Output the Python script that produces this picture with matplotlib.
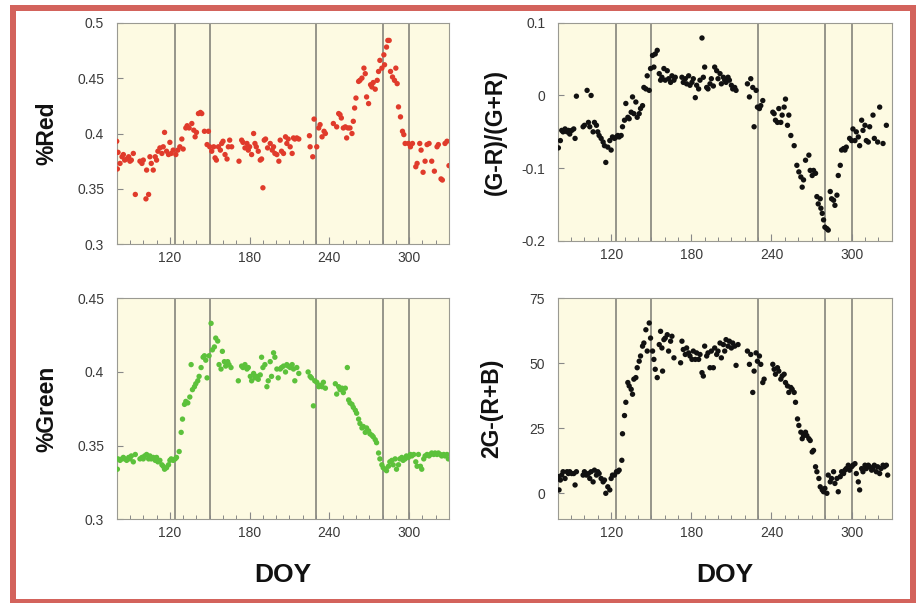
import matplotlib
matplotlib.use("Agg")
import matplotlib.pyplot as plt
from matplotlib.patches import Rectangle
from matplotlib.ticker import MultipleLocator, FixedLocator

plt.rcParams['font.family'] = ['Liberation Sans', 'DejaVu Sans']

# ---------------- data ----------------
red_doy = [80, 80.5, 81, 82.5, 84, 85, 86, 87.5, 89, 90, 91, 92.5, 94, 97.5, 99, 100, 102, 102.5, 104, 105,
           106, 107.5, 109, 110, 111, 112.5, 114, 115, 116, 117.5, 119, 120, 121, 122.5, 124.5, 126, 127.5, 129, 130, 132,
           133, 134.5, 136.5, 138, 139, 140, 141.5, 143, 144, 146, 148, 149, 150, 151.5, 153, 154, 155, 156.5, 158, 159,
           160, 161.5, 163, 164, 165, 166.5, 172, 174, 175, 176.5, 178, 179, 180, 181.5, 183, 184, 185, 186.5, 188, 189,
           190, 191, 192, 193.5, 195.5, 197, 198, 199, 200.5, 202, 203, 204, 205.5, 207, 208, 209, 210.5, 212, 213, 214,
           215.5, 217, 225, 225.5, 227.5, 228.5, 230.5, 232, 233, 234.5, 236, 237, 243, 245.5, 247, 248, 249, 250.5,
           252, 253, 254, 255.5, 257, 258, 259, 260, 262, 263, 264.5, 266, 267, 268, 269.5, 271, 272, 273, 274.5, 276,
           277, 278, 279.5, 281, 281.5, 283, 284, 285, 286, 287.5, 289, 290, 291, 292, 293.5, 295, 296, 297, 299.5, 301,
           302.5, 305, 306, 308, 309, 310.5, 312, 313.5, 315, 317, 319, 321, 322, 324, 325, 327, 328.5, 330]
red_val = [0.393, 0.368, 0.383, 0.373, 0.379, 0.381, 0.376, 0.377, 0.379, 0.375, 0.376, 0.382, 0.345, 0.375, 0.373,
           0.376, 0.341, 0.367, 0.345, 0.379, 0.373, 0.367, 0.379, 0.376, 0.384, 0.387, 0.382, 0.388, 0.401, 0.384,
           0.381, 0.392, 0.382, 0.385, 0.381, 0.385, 0.388, 0.395, 0.386, 0.405, 0.407, 0.405, 0.409, 0.403, 0.397,
           0.401, 0.418, 0.419, 0.418, 0.402, 0.390, 0.402, 0.388, 0.384, 0.388, 0.378, 0.376, 0.388, 0.385, 0.391,
           0.393, 0.381, 0.377, 0.388, 0.394, 0.388, 0.375, 0.394, 0.392, 0.387, 0.391, 0.385, 0.388, 0.381, 0.400,
           0.391, 0.388, 0.384, 0.376, 0.377, 0.351, 0.394, 0.395, 0.387, 0.391, 0.385, 0.388, 0.382, 0.381, 0.375,
           0.394, 0.384, 0.382, 0.397, 0.391, 0.395, 0.388, 0.382, 0.396, 0.395, 0.396, 0.395, 0.398, 0.388, 0.379,
           0.413, 0.388, 0.405, 0.408, 0.397, 0.402, 0.400, 0.409, 0.406, 0.418, 0.417, 0.414, 0.405, 0.406, 0.396,
           0.405, 0.405, 0.400, 0.411, 0.423, 0.432, 0.447, 0.448, 0.450, 0.459, 0.454, 0.433, 0.427, 0.444, 0.442,
           0.446, 0.440, 0.448, 0.456, 0.466, 0.459, 0.471, 0.462, 0.478, 0.484, 0.484, 0.456, 0.451, 0.448, 0.459,
           0.445, 0.424, 0.415, 0.402, 0.399, 0.391, 0.391, 0.388, 0.391, 0.370, 0.373, 0.391, 0.385, 0.365, 0.375,
           0.390, 0.391, 0.375, 0.366, 0.388, 0.390, 0.359, 0.358, 0.391, 0.393, 0.371]

gr_doy = [80.5, 82, 83, 84, 85.5, 87, 88, 89, 90.5, 92, 93, 94, 99, 100, 102, 103, 104, 105, 106.5, 107.5, 109, 110,
          111, 112.5, 114, 115, 116, 117.5, 119, 120, 121, 122.5, 124, 125, 126, 127.5, 128.5, 130, 131, 132.5, 133.5,
          135, 136, 137, 138.5, 139.5, 141, 142, 143.5, 144.5, 146, 147, 148.5, 149.5, 151, 152, 153, 154.5, 156, 157,
          158, 159.5, 160.5, 162, 163, 164.5, 165.5, 167, 168, 173, 174, 175.5, 176.5, 178, 179, 180.5, 181.5, 183, 184,
          185.5, 186.5, 188, 189, 190, 191.5, 192.5, 194, 195, 196.5, 197.5, 199, 200, 201.5, 202.5, 204, 205, 206,
          207.5, 208.5, 210, 211, 212.5, 213.5, 222, 223.5, 224.5, 226, 227, 228.5, 229.5, 231, 232, 233.5, 241, 242,
          243, 244.5, 245.5, 247, 248, 249.5, 250.5, 252, 253, 254.5, 257, 259, 260.5, 262, 263, 264, 265.5, 268, 269,
          270.5, 271.5, 273, 274, 275, 276.5, 277, 278, 279, 280, 281.5, 282.5, 284, 285, 286.5, 287.5, 289, 290,
          291.5, 292.5, 294, 295, 296, 298.5, 300, 301, 302.5, 303.5, 305, 306, 307.5, 308.5, 310, 311, 312.5, 313.5,
          316, 317, 319.5, 321, 323.5, 326]
gr_val = [-0.072, -0.062, -0.048, -0.050, -0.046, -0.050, -0.048, -0.053, -0.048, -0.046, -0.059, -0.001, -0.043,
          -0.041, 0.007, -0.037, -0.043, 0.000, -0.050, -0.037, -0.041, -0.050, -0.055, -0.059, -0.064, -0.069, -0.092,
          -0.071, -0.062, -0.075, -0.057, -0.059, -0.057, -0.055, -0.057, -0.055, -0.043, -0.034, -0.011, -0.030,
          -0.032, -0.023, -0.002, -0.025, -0.009, -0.030, -0.025, -0.018, -0.014, 0.011, 0.009, 0.027, 0.007, 0.037,
          0.055, 0.039, 0.057, 0.062, 0.030, 0.021, 0.025, 0.037, 0.021, 0.034, 0.023, 0.018, 0.027, 0.021, 0.025,
          0.025, 0.018, 0.023, 0.016, 0.027, 0.014, 0.018, 0.023, -0.003, 0.014, 0.009, 0.021, 0.079, 0.025, 0.039,
          0.011, 0.009, 0.016, 0.023, 0.013, 0.039, 0.034, 0.023, 0.030, 0.016, 0.025, 0.021, 0.018, 0.025, 0.021,
          0.014, 0.009, 0.011, 0.007, 0.016, -0.002, 0.023, 0.011, -0.043, 0.007, -0.016, -0.018, -0.014, -0.007,
          -0.023, -0.025, -0.034, -0.037, -0.018, -0.037, -0.027, -0.016, -0.005, -0.041, -0.027, -0.055, -0.069,
          -0.096, -0.105, -0.112, -0.126, -0.116, -0.089, -0.082, -0.103, -0.110, -0.103, -0.107, -0.139, -0.149,
          -0.142, -0.155, -0.162, -0.171, -0.181, -0.183, -0.185, -0.132, -0.142, -0.144, -0.151, -0.137, -0.110,
          -0.096, -0.075, -0.073, -0.075, -0.071, -0.059, -0.062, -0.046, -0.062, -0.050, -0.057, -0.069, -0.034,
          -0.048, -0.041, -0.062, -0.064, -0.043, -0.027, -0.059, -0.064, -0.016, -0.066, -0.041]

green_doy = [80.5, 81, 82.5, 84, 85, 86, 87.5, 89, 90, 91, 92.5, 94, 97.5, 99, 100, 101, 102.5, 104, 105, 106, 107.5,
             109, 110, 111, 112.5, 114, 115, 116, 117.5, 119, 120, 121, 122.5, 124, 125, 127, 128.5, 129.5, 131, 132,
             133.5, 135, 136, 137, 138.5, 139.5, 141, 142, 143.5, 145, 146, 147, 148, 149.5, 151, 152, 153.5, 154.5,
             156, 157, 158.5, 159.5, 161, 162, 163.5, 164.5, 166, 171.5, 174, 175, 176.5, 178, 179, 180.5, 181.5, 183,
             184, 185.5, 186.5, 188, 189, 190, 191.5, 193, 194, 195.5, 196.5, 198, 199, 200.5, 201.5, 203, 204, 205.5,
             207, 208, 209, 210.5, 212, 213, 214, 215.5, 217, 224, 225.5, 226.5, 228, 229, 230.5, 232, 233, 234.5,
             235.5, 237, 244.5, 245.5, 247, 248, 249.5, 250.5, 252, 253.5, 254.5, 255.5, 257, 258, 259.5, 260.5, 262,
             263, 264.5, 265.5, 267, 268, 269.5, 270.5, 272, 273, 274.5, 275.5, 277, 278, 279.5, 280.5, 282, 283, 284.5,
             285.5, 287, 288, 289.5, 290.5, 292, 293, 294.5, 295.5, 297, 298, 299.5, 301, 302, 303.5, 305, 306, 307,
             308.5, 309.5, 311, 312, 313.5, 315, 316, 317, 318.5, 319.5, 321, 322, 323.5, 324.5, 326, 327, 328.5,
             329.5]
green_val = [0.334, 0.341, 0.340, 0.341, 0.342, 0.341, 0.340, 0.342, 0.341, 0.343, 0.339, 0.344, 0.341, 0.342, 0.341,
             0.343, 0.344, 0.341, 0.343, 0.341, 0.342, 0.340, 0.342, 0.339, 0.340, 0.337, 0.336, 0.334, 0.335, 0.337,
             0.340, 0.341, 0.340, 0.341, 0.342, 0.346, 0.359, 0.368, 0.378, 0.380, 0.379, 0.383, 0.405, 0.388, 0.390,
             0.392, 0.394, 0.397, 0.403, 0.410, 0.411, 0.408, 0.396, 0.411, 0.433, 0.415, 0.417, 0.423, 0.421, 0.405,
             0.402, 0.414, 0.407, 0.404, 0.407, 0.405, 0.403, 0.394, 0.404, 0.403, 0.405, 0.402, 0.403, 0.397, 0.394,
             0.399, 0.396, 0.397, 0.395, 0.398, 0.410, 0.403, 0.405, 0.390, 0.394, 0.407, 0.397, 0.413, 0.410, 0.402,
             0.396, 0.402, 0.403, 0.404, 0.400, 0.405, 0.404, 0.403, 0.405, 0.402, 0.394, 0.403, 0.399, 0.400, 0.397,
             0.396, 0.377, 0.394, 0.393, 0.390, 0.391, 0.390, 0.393, 0.389, 0.392, 0.385, 0.390, 0.388, 0.389, 0.386,
             0.389, 0.403, 0.381, 0.379, 0.378, 0.376, 0.374, 0.372, 0.368, 0.365, 0.362, 0.363, 0.359, 0.362, 0.360,
             0.358, 0.357, 0.356, 0.354, 0.352, 0.345, 0.341, 0.337, 0.335, 0.334, 0.333, 0.336, 0.339, 0.340, 0.337,
             0.341, 0.334, 0.337, 0.341, 0.342, 0.340, 0.341, 0.343, 0.342, 0.344, 0.343, 0.344, 0.339, 0.336, 0.344,
             0.336, 0.334, 0.341, 0.343, 0.344, 0.343, 0.344, 0.345, 0.344, 0.345, 0.344, 0.345, 0.344, 0.343, 0.344,
             0.343, 0.344, 0.341]

exg_doy = [80.5, 81, 82, 83, 84, 85.5, 87, 88, 89, 90.5, 92, 93, 94, 99, 100, 101.5, 103, 104, 105, 106.5, 107.5, 109,
           110, 111, 112.5, 114, 115, 116, 117.5, 119, 120, 121, 122.5, 124, 125, 126, 128, 128.5, 130, 131, 132.5,
           133.5, 135, 136, 137, 138.5, 139.5, 141, 142, 143.5, 144.5, 146, 147, 148.5, 149.5, 151, 152, 153, 154.5,
           156, 157, 158, 158.5, 159.5, 160.5, 162, 163, 164.5, 165.5, 167, 172, 173, 174, 175.5, 176.5, 178, 179,
           180.5, 181.5, 183, 184, 185.5, 186.5, 188, 189, 190, 191.5, 192.5, 194, 195, 196.5, 197.5, 199, 200, 201.5,
           202.5, 204, 205, 206, 207.5, 208.5, 210, 211, 212.5, 213.5, 215, 222, 223.5, 224.5, 226, 227, 228.5, 229.5,
           231, 232, 233.5, 234.5, 241, 242, 243, 244.5, 245.5, 247, 248, 249.5, 250.5, 252, 253, 254.5, 255.5, 257,
           258, 259.5, 260.5, 262, 263, 264, 265.5, 266.5, 268, 269, 270.5, 271.5, 273, 274, 275.5, 276.5, 278, 279,
           280, 281.5, 282.5, 284, 285, 286.5, 287.5, 289, 290, 291.5, 292.5, 294, 295, 296, 297.5, 298.5, 300, 301,
           302.5, 303.5, 305, 306, 307.5, 308.5, 310, 311, 312.5, 313.5, 315, 316, 317, 318.5, 319.5, 321, 322,
           323.5, 324.5, 326, 327]
exg_val = [6.4, 1.3, 5.1, 7.0, 8.3, 5.7, 8.3, 7.6, 8.3, 7.6, 7.6, 3.2, 8.3, 7.0, 8.3, 7.0, 7.6, 5.7, 8.3, 4.4, 8.9,
           7.0, 8.3, 7.6, 5.7, 4.4, 5.1, 0.0, 2.5, 1.3, 5.7, 7.0, 7.0, 8.3, 8.3, 8.9, 12.7, 22.9, 29.9, 35.0, 42.6,
           41.3, 40.0, 38.1, 43.9, 44.5, 48.3, 50.8, 52.8, 56.6, 57.8, 62.9, 54.7, 65.5, 59.7, 54.7, 51.5, 47.7, 44.5,
           57.2, 62.3, 55.9, 47.0, 59.1, 59.7, 61.0, 54.7, 58.5, 60.4, 52.1, 50.2, 58.5, 55.3, 53.4, 55.9, 54.0, 52.8,
           51.5, 54.7, 51.5, 54.0, 51.5, 53.4, 46.4, 45.1, 56.6, 52.8, 54.0, 48.3, 54.7, 48.3, 55.9, 53.4, 54.7, 57.8,
           52.1, 57.2, 54.7, 59.1, 56.6, 58.5, 55.9, 57.8, 56.6, 49.2, 57.2, 54.7, 49.6, 53.4, 38.8, 47.0, 54.0, 50.8,
           52.8, 49.6, 42.6, 43.9, 49.6, 47.7, 45.8, 48.3, 47.0, 43.9, 45.1, 45.8, 42.6, 41.3, 38.8, 40.7, 40.0, 38.8,
           35.0, 28.6, 26.1, 23.5, 21.0, 22.2, 23.5, 22.2, 21.0, 20.3, 15.9, 16.5, 10.2, 8.3, 5.7, 2.5, 1.3, 0.6, 1.9,
           0.0, 7.0, 4.4, 5.7, 8.3, 3.8, 5.7, 0.6, 6.4, 8.3, 7.6, 8.9, 9.5, 10.8, 8.9, 10.2, 10.8, 11.4, 7.6, 4.4, 1.3,
           9.5, 8.3, 10.8, 9.5, 10.8, 10.2, 8.9, 9.5, 10.8, 8.3, 10.2, 7.6, 9.5, 10.8, 10.2, 10.8, 7.0]

event_doy = [124, 150, 230, 280, 300]
xticks = [120, 180, 240, 300]

panels = [
    dict(x=red_doy, y=red_val, color='#e03b2b', ylabel='%Red', ylim=(0.3, 0.5),
         yticks=[0.3, 0.35, 0.4, 0.45, 0.5], ylabels=['0.3', '0.35', '0.4', '0.45', '0.5'],
         pos=(116.7, 22.7, 449.0, 244.3), ylx=47),
    dict(x=gr_doy, y=gr_val, color='#111111', ylabel='(G-R)/(G+R)', ylim=(-0.2, 0.1),
         yticks=[-0.2, -0.1, 0, 0.1], ylabels=['-0.2', '-0.1', '0', '0.1'],
         pos=(557.7, 22.7, 891.7, 241.0), ylx=495),
    dict(x=green_doy, y=green_val, color='#5cc13b', ylabel='%Green', ylim=(0.3, 0.45),
         yticks=[0.3, 0.35, 0.4, 0.45], ylabels=['0.3', '0.35', '0.4', '0.45'],
         pos=(116.7, 298.3, 449.0, 519.3), ylx=47),
    dict(x=exg_doy, y=exg_val, color='#111111', ylabel='2G-(R+B)', ylim=(-10, 75),
         yticks=[0, 25, 50, 75], ylabels=['0', '25', '50', '75'],
         pos=(557.7, 298.3, 891.7, 519.3), ylx=492),
]

W, H = 921, 603
fig = plt.figure(figsize=(W / 100, H / 100), dpi=100)
fig.patch.set_facecolor('white')

for i, p in enumerate(panels):
    x0, y0, x1, y1 = p['pos']
    ax = fig.add_axes([x0 / W, 1 - y1 / H, (x1 - x0) / W, (y1 - y0) / H])
    ax.set_facecolor('#fdfae2')
    for xv in event_doy:
        ax.axvline(xv, color='#7a7a72', lw=1.1, zorder=1)
    ax.scatter(p['x'], p['y'], s=15, color=p['color'], edgecolors='none', zorder=3)
    ax.set_xlim(80, 330)
    ax.set_ylim(*p['ylim'])
    ax.xaxis.set_major_locator(FixedLocator(xticks))
    ax.xaxis.set_minor_locator(MultipleLocator(10))
    ax.set_yticks(p['yticks'])
    ax.set_yticklabels(p['ylabels'])
    ax.tick_params(axis='x', which='major', direction='in', length=5, width=0.8, color='#888888',
                   labelsize=10, labelcolor='#3a3a3a', pad=5)
    ax.tick_params(axis='x', which='minor', direction='in', length=3, width=0.7, color='#888888')
    ax.tick_params(axis='y', which='major', direction='in', length=4, width=0.8, color='#888888',
                   labelsize=10, labelcolor='#3a3a3a', pad=9)
    for s in ax.spines.values():
        s.set_color('#9a9a92')
        s.set_linewidth(0.8)
    fig.text(p['ylx'] / W, 1 - ((y0 + y1) / 2) / H, p['ylabel'], rotation=90,
             ha='center', va='center', fontsize=16.5, fontweight='bold', color='#111111')
    if i >= 2:
        fig.text(((x0 + x1) / 2) / W, 1 - 575.5 / H, 'DOY', ha='center', va='center',
                 fontsize=19, fontweight='bold', color='#111111')

# decorative frame
lw_px = 6
rect = Rectangle((13 / W, 1 - 602 / H), (913 - 13) / W, (602 - 8) / H,
                 transform=fig.transFigure, fill=False, edgecolor='#d3635c',
                 linewidth=lw_px * 0.72, zorder=10)
fig.add_artist(rect)

fig.savefig('out.png', dpi=100)
